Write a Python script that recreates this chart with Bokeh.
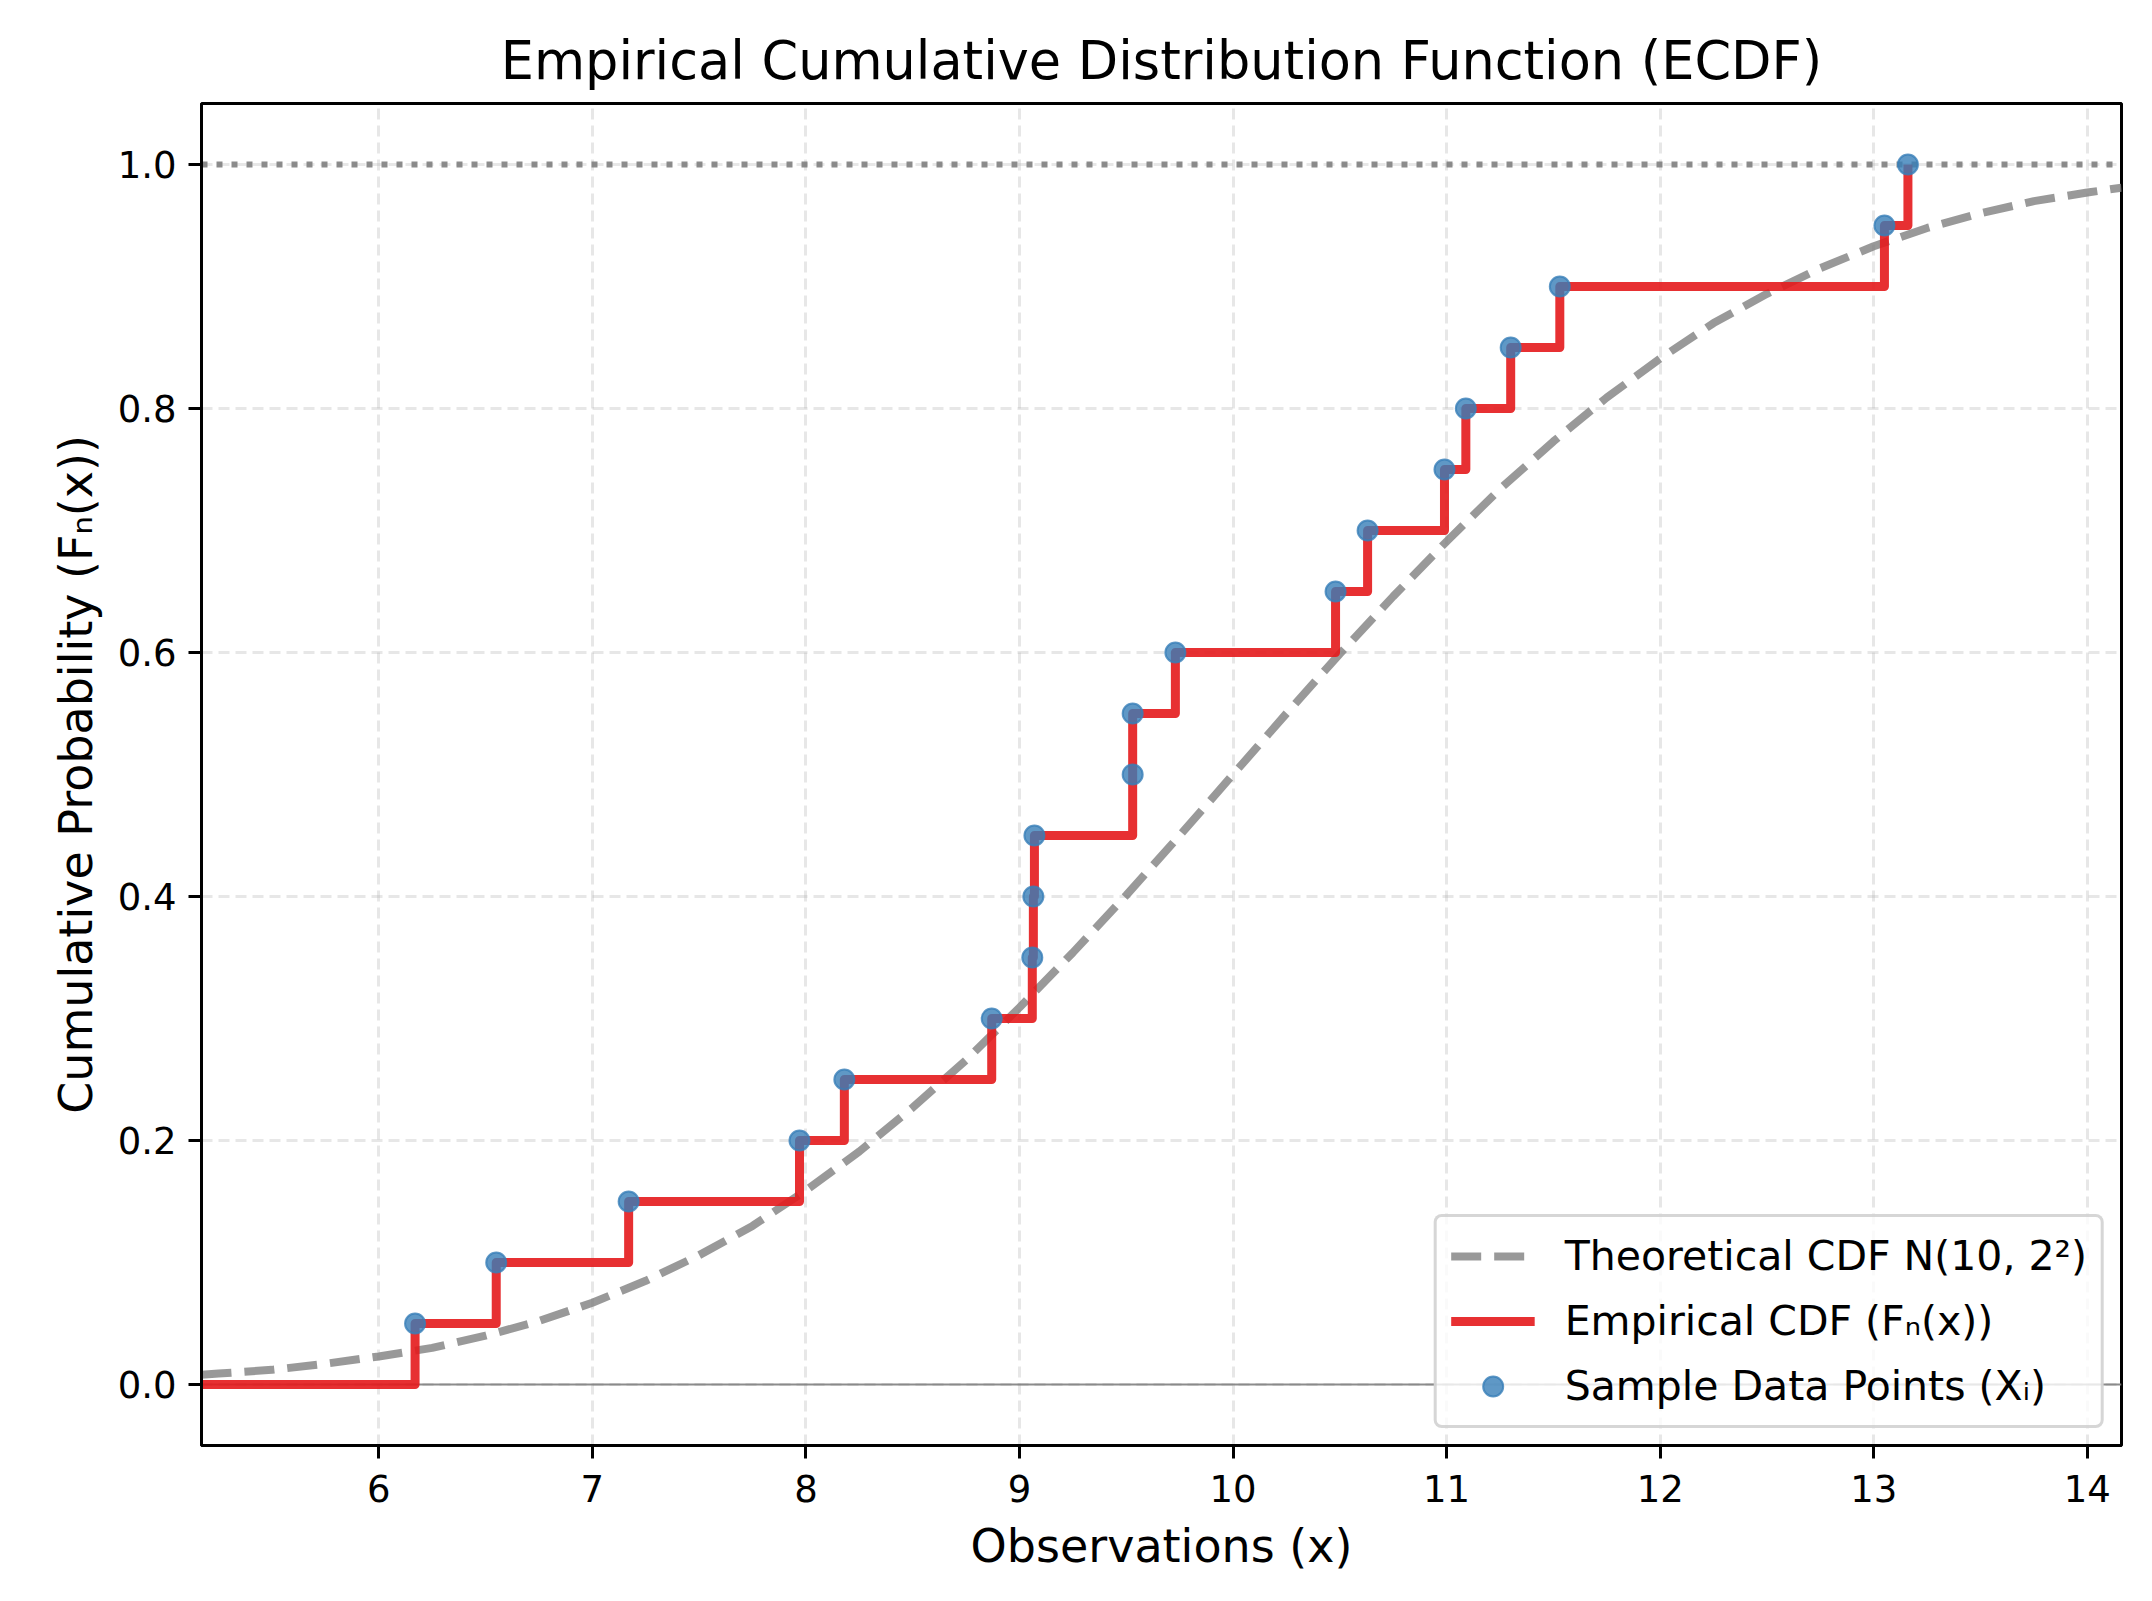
from bokeh.plotting import figure
from bokeh.models import Range1d, FixedTicker, PrintfTickFormatter, Span
from bokeh.embed import file_html
from bokeh.resources import INLINE

# ---- data ----
sample_x = [6.17, 6.55, 7.17, 7.97, 8.18, 8.87, 9.06, 9.065, 9.07, 9.53,
            9.53, 9.73, 10.48, 10.63, 10.99, 11.09, 11.30, 11.53, 13.05, 13.16]
ecdf_y = [0.05, 0.10, 0.15, 0.20, 0.25, 0.30, 0.35, 0.40, 0.45, 0.50,
          0.55, 0.60, 0.65, 0.70, 0.75, 0.80, 0.85, 0.90, 0.95, 1.00]
ecdf_start_x = 5.17
ecdf_start_y = 0.0

theory_x = [5.17, 5.25, 5.5, 5.75, 6.0, 6.25, 6.5, 6.75, 7.0, 7.25, 7.5, 7.75,
            8.0, 8.25, 8.5, 8.75, 9.0, 9.25, 9.5, 9.75, 10.0, 10.25, 10.5, 10.75,
            11.0, 11.25, 11.5, 11.75, 12.0, 12.25, 12.5, 12.75, 13.0, 13.25,
            13.5, 13.75, 14.0, 14.16]
theory_y = [0.008, 0.009, 0.012, 0.017, 0.023, 0.030, 0.040, 0.052, 0.067, 0.085,
            0.106, 0.130, 0.159, 0.191, 0.227, 0.266, 0.309, 0.354, 0.401, 0.450,
            0.500, 0.550, 0.599, 0.646, 0.691, 0.734, 0.773, 0.809, 0.841, 0.870,
            0.894, 0.915, 0.933, 0.948, 0.960, 0.970, 0.977, 0.981]

x_ticks = [6, 7, 8, 9, 10, 11, 12, 13, 14]
y_ticks = [0.0, 0.2, 0.4, 0.6, 0.8, 1.0]
x_limits = (5.17, 14.16)
y_limits = (-0.05, 1.05)

FONT = "DejaVu Sans"

p = figure(
    title="Empirical Cumulative Distribution Function (ECDF)",
    frame_width=1920, frame_height=1342,
    min_border_left=201, min_border_right=22,
    min_border_top=103, min_border_bottom=150,
    x_range=Range1d(*x_limits), y_range=Range1d(*y_limits),
    output_backend="svg", toolbar_location=None,
)
p.background_fill_color = "white"
p.border_fill_color = "white"
p.outline_line_color = "black"
p.outline_line_width = 3

p.title.text_font = FONT
p.title.text_font_size = "52.5px"
p.title.text_font_style = "normal"
p.title.align = "center"
p.title.text_color = "black"
p.title.standoff = 26

# grid
for g in (p.xgrid, p.ygrid):
    g.grid_line_color = "#b0b0b0"
    g.grid_line_alpha = 0.3
    g.grid_line_width = 3
    g.grid_line_dash = "11 6"

# axes
p.xaxis.ticker = FixedTicker(ticks=x_ticks)
p.yaxis.ticker = FixedTicker(ticks=y_ticks)
p.yaxis.formatter = PrintfTickFormatter(format="%.1f")
p.xaxis.axis_label = "Observations (x)"
p.yaxis.axis_label = "Cumulative Probability (F\u2099(x))"
for ax in (p.xaxis, p.yaxis):
    ax.axis_label_text_font = FONT
    ax.axis_label_text_font_size = "46px"
    ax.axis_label_text_font_style = "normal"
    ax.axis_label_text_color = "black"
    ax.major_label_text_font = FONT
    ax.major_label_text_font_size = "37px"
    ax.major_label_text_color = "black"
    ax.axis_line_color = "black"
    ax.axis_line_width = 3
    ax.major_tick_line_color = "black"
    ax.major_tick_line_width = 3
    ax.major_tick_out = 13
    ax.major_tick_in = 0
    ax.minor_tick_line_color = None
p.xaxis.major_label_standoff = 16
p.xaxis.axis_label_standoff = 14
p.yaxis.major_label_standoff = 12
p.yaxis.axis_label_standoff = 12

# reference lines
p.add_layout(Span(location=0.0, dimension="width", line_color="gray",
                  line_width=2, line_alpha=0.9, level="underlay"))
p.add_layout(Span(location=1.0, dimension="width", line_color="gray",
                  line_width=6, line_alpha=0.9, line_dash="6 9", level="underlay"))

# theoretical CDF
p.line(theory_x, theory_y, line_color="gray", line_alpha=0.8, line_width=8,
       line_dash="30 13", legend_label="Theoretical CDF N(10, 2\u00b2)")

# empirical CDF (step)
p.step([ecdf_start_x] + sample_x, [ecdf_start_y] + ecdf_y, mode="after",
       line_color="#e41a1c", line_alpha=0.9, line_width=9, line_join="round",
       legend_label="Empirical CDF (F\u2099(x))")

# sample points
p.scatter(sample_x, ecdf_y, size=20, marker="circle",
          fill_color="#377eb8", fill_alpha=0.8,
          line_color="#377eb8", line_alpha=0.8, line_width=2,
          legend_label="Sample Data Points (X\u1d62)")

lg = p.legend[0]
lg.location = "bottom_right"
lg.margin = 17
lg.padding = 14
lg.spacing = 15
lg.glyph_width = 84
lg.glyph_height = 50
lg.label_height = 50
lg.label_standoff = 30
lg.label_text_font = FONT
lg.label_text_font_size = "41px"
lg.label_text_color = "black"
lg.border_line_color = "#cccccc"
lg.border_line_width = 3
lg.border_line_alpha = 0.8
lg.background_fill_color = "white"
lg.background_fill_alpha = 0.8
try:
    lg.border_radius = 8
except Exception:
    pass

open("out.html", "w").write(file_html(p, INLINE))
